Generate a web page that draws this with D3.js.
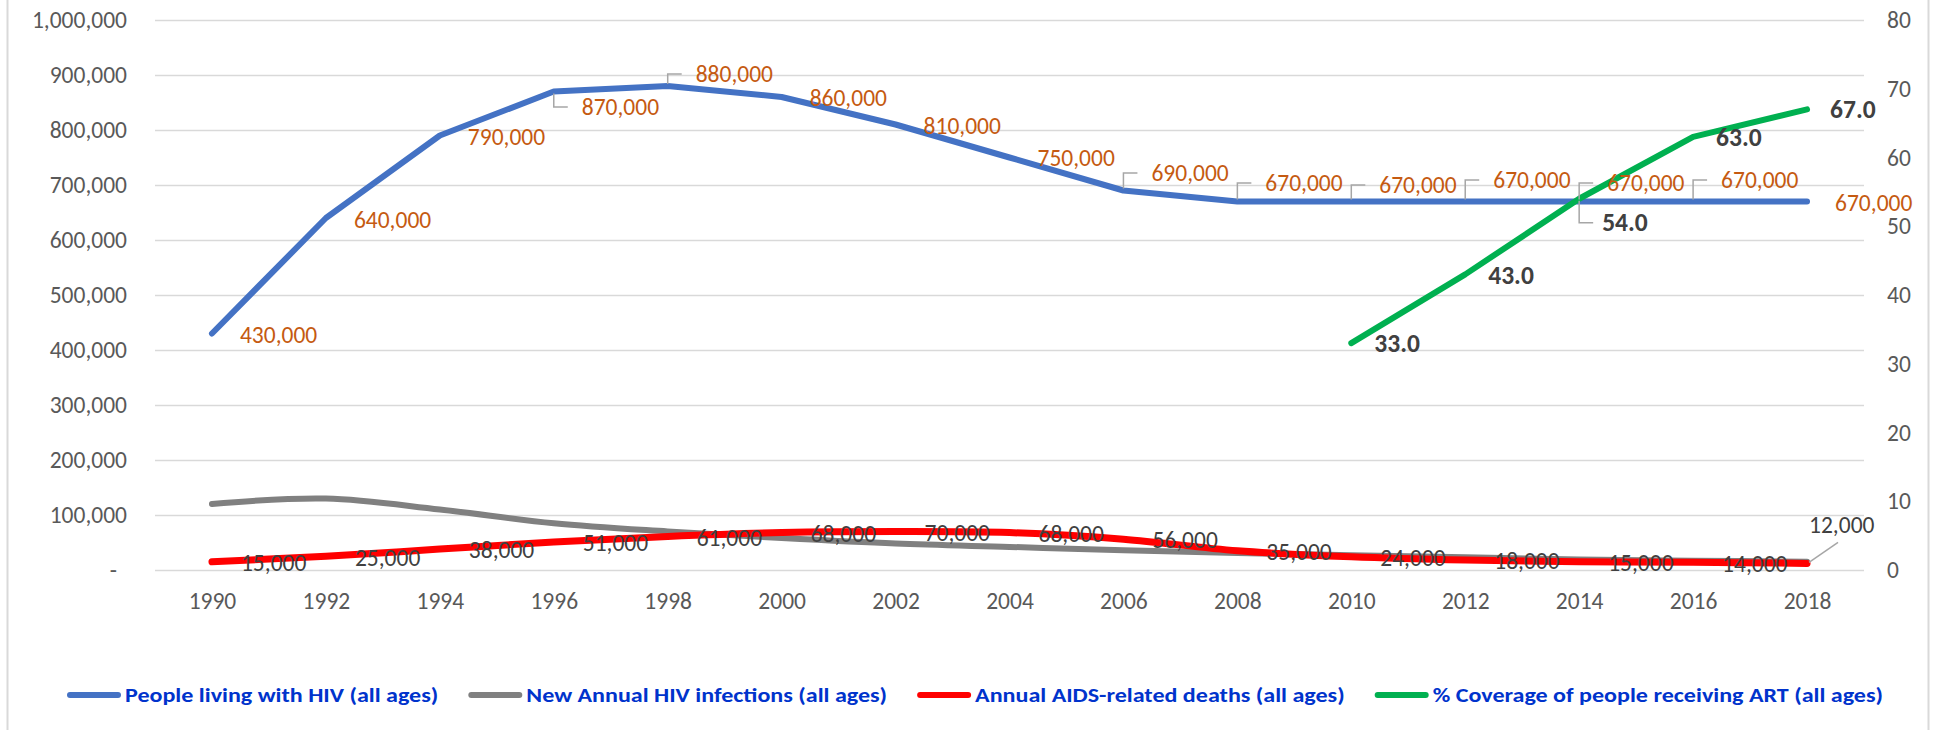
<!DOCTYPE html>
<html>
<head>
<meta charset="utf-8">
<script src="https://cdn.jsdelivr.net/npm/d3@7"></script>
<style>
  body { margin: 0; background: #fff; }
  svg { display: block; font-family: Carlito, "Open Sans", sans-serif; }
</style>
</head>
<body>
<svg id="chart" width="1937" height="730"></svg>
<script>
// categories and series values
const years = [1990, 1992, 1994, 1996, 1998, 2000, 2002, 2004, 2006, 2008, 2010, 2012, 2014, 2016, 2018];
const peopleLiving = [430000, 640000, 790000, 870000, 880000, 860000, 810000, 750000, 690000, 670000, 670000, 670000, 670000, 670000, 670000];
const newInfections = [120000, 130000, 110000, 85000, 70000, 58000, 48000, 42000, 36000, 31000, 27000, 23000, 19000, 17000, 15000];
const aidsDeaths = [15000, 25000, 38000, 51000, 61000, 68000, 70000, 68000, 56000, 35000, 24000, 18000, 15000, 14000, 12000];
const artCoverage = [null, null, null, null, null, null, null, null, null, null, 33, 43, 54, 63, 67];

const leftTicks = [0, 100000, 200000, 300000, 400000, 500000, 600000, 700000, 800000, 900000, 1000000];
const rightTicks = [0, 10, 20, 30, 40, 50, 60, 70, 80];

const seriesNames = [
  "People living with HIV (all ages)",
  "New Annual HIV infections (all ages)",
  "Annual AIDS-related deaths (all ages)",
  "% Coverage of people receiving ART (all ages)"
];
const seriesColors = ["#4472c4", "#808080", "#ff0000", "#00b050"];

// label placement, like labels dragged around in the spreadsheet
// r = right of the point, u = leader going up, d = leader going down, g = diagonal leader
const livingLabelPos = ["r", "r", "r", "d", "u", "r", "r", "r", "u", "u", "u", "u", "u", "u", "r"];
const livingLabelDy = [2, 2, 2, 15.5, -12, 1, 1.5, 0.5, -17.5, -18.5, -16.5, -21.5, -18.5, -21.5, 1.5];
const deathsLabelPos = ["r", "r", "r", "r", "r", "r", "r", "r", "r", "r", "r", "r", "r", "r", "g"];
const artLabelPos = [null, null, null, null, null, null, null, null, null, null, "r", "r", "d", "r", "r"];
const artLabelDy = [0, 0, 0, 0, 0, 0, 0, 0, 0, 0, 0, 1.5, 24, 1, 0.5];

const svg = d3.select("#chart");

const plotLeft = 155, plotRight = 1864, plotTop = 20, plotBottom = 570;
const fontSize = "23.5px";

let x = d3.scalePoint()
  .domain(years)
  .range([plotLeft, plotRight])
  .padding(0.5);

let yLeft = d3.scaleLinear().domain([0, 1000000]).range([plotBottom, plotTop]);
let yRight = d3.scaleLinear().domain([0, 80]).range([plotBottom, plotTop]);

// chart frame (only the sides show in the reference)
svg.append("rect")
  .attr("x", 7.5).attr("y", -10)
  .attr("width", 1921).attr("height", 760)
  .attr("fill", "none")
  .attr("stroke", "#d9d9d9")
  .attr("stroke-width", 2);

// gridlines
let grid = svg.append("g")
  .attr("transform", `translate(${plotLeft},0)`)
  .call(d3.axisLeft(yLeft).tickValues(leftTicks).tickSize(-(plotRight - plotLeft)).tickFormat(""));
grid.select(".domain").remove();
grid.selectAll("line").attr("stroke", "#d9d9d9").attr("stroke-width", 1.5);

// left axis
let axisL = svg.append("g")
  .attr("transform", `translate(${plotLeft},0)`)
  .call(d3.axisLeft(yLeft).tickValues(leftTicks).tickSize(0).tickPadding(28)
    .tickFormat(d => d === 0 ? "-" : d3.format(",")(d)));
axisL.select(".domain").remove();
axisL.selectAll("text")
  .attr("fill", "#595959")
  .style("font-size", fontSize)
  .style("font-family", null)
  .attr("font-family", null)
  .attr("dx", d => d === 0 ? -10 : 0);

// right axis
let axisR = svg.append("g")
  .attr("transform", `translate(${plotRight},0)`)
  .call(d3.axisRight(yRight).tickValues(rightTicks).tickSize(0).tickPadding(23));
axisR.select(".domain").remove();
axisR.selectAll("text").attr("fill", "#595959").style("font-size", fontSize);

// category axis
let axisX = svg.append("g")
  .attr("transform", `translate(0,${plotBottom})`)
  .call(d3.axisBottom(x).tickSize(0).tickPadding(22));
axisX.select(".domain").remove();
axisX.selectAll("text").attr("fill", "#595959").style("font-size", fontSize);

// axis groups carry d3's default font-family, drop it so the svg font applies
svg.selectAll("g").attr("font-family", null);

// lines
let lines = svg.append("g").attr("fill", "none").attr("stroke-linecap", "round").attr("stroke-linejoin", "round");

let straightLeft = d3.line()
  .x((d, i) => x(years[i]))
  .y(d => yLeft(d));

let smoothLeft = d3.line()
  .x((d, i) => x(years[i]))
  .y(d => yLeft(d))
  .curve(d3.curveCatmullRom.alpha(0));

let straightRight = d3.line()
  .defined(d => d !== null)
  .x((d, i) => x(years[i]))
  .y(d => yRight(d));

lines.append("path").attr("d", straightLeft(peopleLiving)).attr("stroke", seriesColors[0]).attr("stroke-width", 6);
lines.append("path").attr("d", smoothLeft(newInfections)).attr("stroke", seriesColors[1]).attr("stroke-width", 6);
lines.append("path").attr("d", smoothLeft(aidsDeaths)).attr("stroke", seriesColors[2]).attr("stroke-width", 7);
lines.append("path").attr("d", straightRight(artCoverage)).attr("stroke", seriesColors[3]).attr("stroke-width", 6);

// data labels
let labels = svg.append("g").style("font-size", fontSize);
let leaderColor = "#a6a6a6";

function drawLabels(values, yScale, fmt, color, weight, size, pos, dys, textDx) {
  values.forEach((v, i) => {
    if (v === null || !pos[i]) return;
    let px = x(years[i]), py = yScale(v);
    let dy = dys ? dys[i] : 1.5;
    let tx = px + textDx, ty = py + dy;
    if (pos[i] === "u" || pos[i] === "d") {
      let sign = pos[i] === "u" ? -1 : 1;
      labels.append("path")
        .attr("d", `M${px},${py + sign * 2}V${ty}H${px + 14}`)
        .attr("fill", "none")
        .attr("stroke", leaderColor)
        .attr("stroke-width", 1.5);
    }
    if (pos[i] === "g") {
      labels.append("path")
        .attr("d", `M${px + 2},${py - 1}L${px + 31},${py - 21}`)
        .attr("stroke", leaderColor)
        .attr("stroke-width", 1.5);
      tx = px + 2;
      ty = py - 38;
    }
    labels.append("text")
      .attr("x", tx)
      .attr("y", ty)
      .attr("dy", "0.33em")
      .attr("fill", color)
      .attr("font-weight", weight)
      .style("font-size", size)
      .text(fmt(v));
  });
}

drawLabels(peopleLiving, yLeft, d3.format(","), "#c55a11", "normal", fontSize, livingLabelPos, livingLabelDy, 28);
drawLabels(aidsDeaths, yLeft, d3.format(","), "#404040", "normal", fontSize, deathsLabelPos, null, 29);
drawLabels(artCoverage, yRight, d3.format(".1f"), "#404040", "bold", "25.5px", artLabelPos, artLabelDy, 23);

// legend
let legend = svg.append("g").style("font-size", "21px").attr("font-weight", "bold");
let legendY = 695, lineLen = 54, lineGap = 4, itemGap = 30;
let legendStart = 67, legendTargetText = 1494;

let legendTexts = seriesNames.map(name =>
  legend.append("text").attr("y", legendY).attr("dy", "0.33em").attr("fill", "#0033cc").text(name));
let natural = legendTexts.map(t => t.node().getComputedTextLength());
let squeeze = legendTargetText / d3.sum(natural);

let cx = legendStart;
seriesNames.forEach((name, i) => {
  legend.append("line")
    .attr("x1", cx + 3).attr("x2", cx + lineLen - 3)
    .attr("y1", legendY).attr("y2", legendY)
    .attr("stroke", seriesColors[i])
    .attr("stroke-width", 6)
    .attr("stroke-linecap", "round");
  let w = natural[i] * squeeze;
  legendTexts[i]
    .attr("x", cx + lineLen + lineGap)
    .attr("textLength", w)
    .attr("lengthAdjust", "spacingAndGlyphs");
  cx += lineLen + lineGap + w + itemGap;
});
</script>
</body>
</html>
